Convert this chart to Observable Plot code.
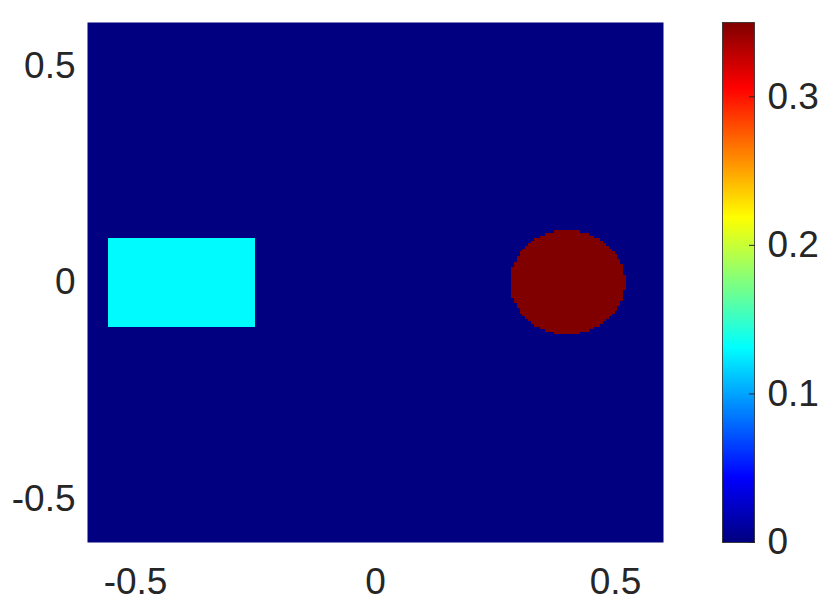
<!DOCTYPE html>
<html>
<head>
<meta charset="utf-8">
<script src="https://cdn.jsdelivr.net/npm/d3@7"></script>
<script src="https://cdn.jsdelivr.net/npm/@observablehq/plot@0.6"></script>
<style>
  html, body { margin: 0; padding: 0; background: #fff; }
  #wrap { position: relative; width: 835px; height: 606px; }
  #wrap svg { position: absolute; left: 0; top: 0; background: transparent; }
</style>
</head>
<body>
<div id="wrap"></div>
<script>
// ---- data ----
const xDomain = [-0.6, 0.6];
const yDomain = [-0.6, 0.6];
const xTicks = [-0.5, 0, 0.5];
const yTicks = [-0.5, 0, 0.5];
const colorTicks = [0, 0.1, 0.2, 0.3];
const colorMax = 0.35;

const backgroundValue = 0;
const rectX = [-0.555, -0.25];
const rectY = [-0.1, 0.1];
const rectValue = 0.13;
const circleCenter = [0.4, 0];
const circleRadius = 0.12;
const circleValue = 0.35;
const gridSize = 200;

// jet colormap stops (fractions of colorMax)
const jetStops = [0, 0.125, 0.375, 0.625, 0.875, 1];
const jetColors = ["#000080", "#0000ff", "#00ffff", "#ffff00", "#ff0000", "#800000"];

const colorScale = {
  type: "linear",
  domain: jetStops.map(t => t * colorMax),
  range: jetColors,
  interpolate: "rgb",
  clamp: true
};

function field(x, y) {
  const dx = x - circleCenter[0], dy = y - circleCenter[1];
  if (dx * dx + dy * dy <= circleRadius * circleRadius) return circleValue;
  if (x >= rectX[0] && x <= rectX[1] && y >= rectY[0] && y <= rectY[1]) return rectValue;
  return backgroundValue;
}

const fontStyle = {
  fontFamily: "'Liberation Sans', Arial, Helvetica, sans-serif",
  fontSize: "37px",
  color: "#262626",
  background: "transparent",
  overflow: "visible"
};

const main = Plot.plot({
  width: 835,
  height: 606,
  marginLeft: 87,
  marginRight: 172,
  marginTop: 22,
  marginBottom: 64,
  style: fontStyle,
  x: { domain: xDomain },
  y: { domain: yDomain },
  color: colorScale,
  marks: [
    Plot.raster({
      x1: xDomain[0], x2: xDomain[1], y1: yDomain[0], y2: yDomain[1],
      width: gridSize, height: gridSize,
      fill: field,
      imageRendering: "pixelated"
    }),
    Plot.axisX(xTicks, { tickSize: 0, tickPadding: 25, tickFormat: d => String(d), label: null }),
    Plot.axisY(yTicks, { tickSize: 0, tickPadding: 12, tickFormat: d => String(d), label: null })
  ]
});

const bar = Plot.plot({
  width: 835,
  height: 606,
  marginLeft: 722,
  marginRight: 81,
  marginTop: 22,
  marginBottom: 64,
  style: fontStyle,
  x: { domain: [0, 1], axis: null },
  y: { domain: [0, colorMax] },
  color: colorScale,
  marks: [
    Plot.raster({
      x1: 0, x2: 1, y1: 0, y2: colorMax,
      width: 1, height: 512,
      fill: (x, y) => y
    }),
    Plot.frame({ stroke: "#262626", strokeWidth: 0.8 }),
    Plot.axisY(colorTicks, {
      anchor: "right", tickSize: -6, tickPadding: 19,
      stroke: "#262626", strokeWidth: 1,
      tickFormat: d => String(d), label: null
    })
  ]
});

const wrap = document.getElementById("wrap");
wrap.appendChild(main);
wrap.appendChild(bar);
</script>
</body>
</html>
